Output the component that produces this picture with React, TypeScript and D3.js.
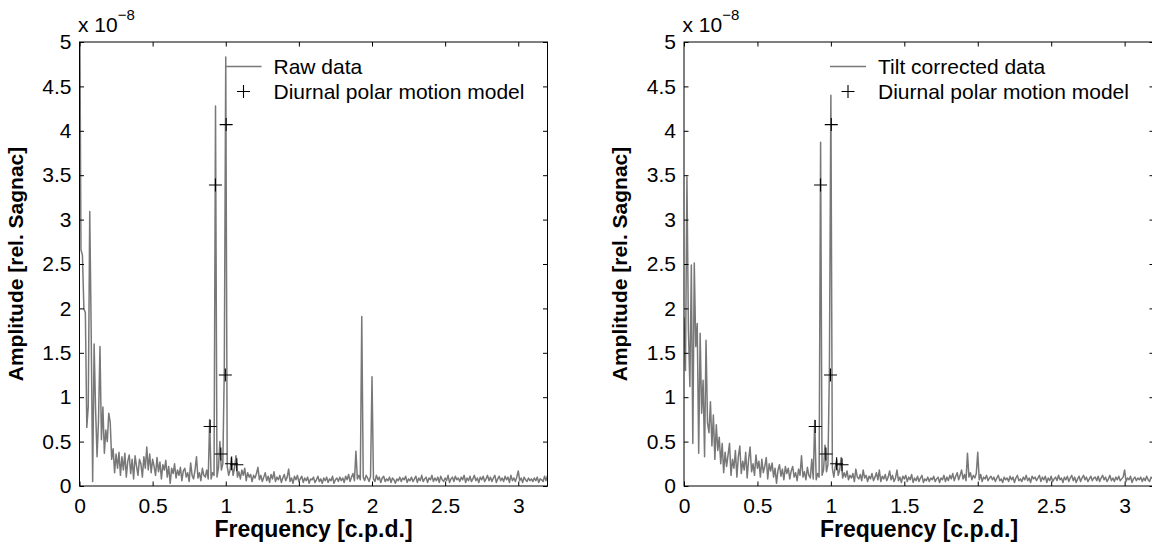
import React, { useEffect, useRef } from "react";
import * as d3 from "d3";

// spectrum bins are spaced 0.01 c.p.d. apart, starting at 0
const FREQ_STEP = 0.01;

// raw Sagnac amplitude spectrum, units of 1e-8, one row per 0.1 c.p.d.
const rawAmp = [
  6.0, 2.66, 2.6, 2.0, 1.95, 0.66, 0.9, 3.09, 1.72, 0.05,
  1.6, 0.86, 0.33, 0.74, 1.57, 0.52, 0.89, 0.37, 0.63, 0.5,
  0.82, 0.72, 0.3, 0.42, 0.15, 0.36, 0.2, 0.38, 0.12, 0.33,
  0.18, 0.37, 0.1, 0.28, 0.35, 0.14, 0.3, 0.08, 0.34, 0.22,
  0.12, 0.3, 0.25, 0.1, 0.33, 0.2, 0.44, 0.18, 0.36, 0.15,
  0.3, 0.22, 0.12, 0.32, 0.16, 0.27, 0.08, 0.24, 0.18, 0.29,
  0.1, 0.22, 0.03, 0.2, 0.14, 0.25, 0.09, 0.18, 0.12, 0.21,
  0.06, 0.17, 0.2, 0.1, 0.15, 0.05, 0.26, 0.12, 0.08, 0.18,
  0.33, 0.09, 0.15, 0.06, 0.2, 0.12, 0.1, 0.18, 0.08, 0.75,
  0.08, 0.15, 0.12, 4.28, 0.1, 0.2, 0.5, 0.18, 0.25, 1.3,
  4.83, 0.22, 0.12, 0.18, 0.33, 0.12, 0.2, 0.34, 0.1, 0.16,
  0.08, 0.18, 0.12, 0.2, 0.06, 0.15, 0.1, 0.13, 0.05, 0.12,
  0.09, 0.14, 0.21, 0.07, 0.12, 0.05, 0.1, 0.15, 0.06, 0.11,
  0.04, 0.13, 0.08, 0.16, 0.05, 0.1, 0.07, 0.12, 0.04, 0.09,
  0.13, 0.06, 0.1, 0.19, 0.05, 0.09, 0.03, 0.11, 0.07, 0.12,
  0.05, 0.08, 0.11, 0.04, 0.09, 0.06, 0.1, 0.03, 0.08, 0.07,
  0.1, 0.04, 0.07, 0.11, 0.05, 0.08, 0.03, 0.09, 0.06, 0.1,
  0.04, 0.08, 0.06, 0.11, 0.03, 0.07, 0.09, 0.05, 0.1, 0.06,
  0.09, 0.04, 0.11, 0.07, 0.13, 0.05, 0.1, 0.14, 0.06, 0.39,
  0.08, 0.12, 0.07, 1.91, 0.1, 0.06, 0.12, 0.09, 0.05, 0.11,
  1.23, 0.08, 0.05, 0.12, 0.07, 0.1, 0.04, 0.09, 0.11, 0.05,
  0.08, 0.06, 0.1, 0.04, 0.09, 0.07, 0.03, 0.08, 0.06, 0.1,
  0.05, 0.09, 0.07, 0.11, 0.04, 0.08, 0.06, 0.1, 0.05, 0.08,
  0.11, 0.04, 0.09, 0.06, 0.12, 0.05, 0.08, 0.1, 0.04, 0.09,
  0.07, 0.12, 0.05, 0.09, 0.06, 0.1, 0.04, 0.11, 0.07, 0.05,
  0.09, 0.06, 0.12, 0.04, 0.08, 0.1, 0.05, 0.11, 0.07, 0.09,
  0.05, 0.1, 0.07, 0.12, 0.04, 0.09, 0.06, 0.11, 0.05, 0.08,
  0.12, 0.06, 0.09, 0.04, 0.1, 0.07, 0.11, 0.05, 0.08, 0.12,
  0.06, 0.1, 0.05, 0.09, 0.12, 0.04, 0.08, 0.11, 0.06, 0.09,
  0.05, 0.11, 0.07, 0.1, 0.04, 0.12, 0.06, 0.09, 0.05, 0.1,
  0.17, 0.06, 0.09, 0.04, 0.1, 0.07, 0.05, 0.09, 0.06, 0.08,
  0.05, 0.09, 0.06, 0.1, 0.04, 0.08, 0.07, 0.05, 0.11, 0.06,
  0.12,
];

// tilt corrected spectrum, same bins
const tiltAmp = [
  1.9, 1.3, 3.48, 1.76, 1.12, 2.49, 0.48, 2.51, 1.57, 1.83,
  0.37, 1.72, 0.82, 1.19, 0.33, 1.64, 0.71, 0.6, 0.95, 0.45,
  0.8, 0.3, 0.69, 0.4, 0.55, 0.25, 0.48, 0.15, 0.38, 0.22,
  0.35, 0.48, 0.12, 0.3, 0.2, 0.4, 0.1, 0.33, 0.45, 0.14,
  0.28, 0.18, 0.38, 0.09, 0.3, 0.44, 0.16, 0.25, 0.12, 0.35,
  0.2, 0.28, 0.1, 0.3, 0.15, 0.22, 0.32, 0.08, 0.25, 0.17,
  0.26, 0.1, 0.2, 0.03, 0.18, 0.24, 0.11, 0.19, 0.07, 0.22,
  0.14, 0.2, 0.08, 0.17, 0.22, 0.1, 0.15, 0.06, 0.19, 0.12,
  0.34, 0.1, 0.16, 0.07, 0.21, 0.12, 0.09, 0.3, 0.08, 0.74,
  0.07, 0.14, 0.1, 3.87, 0.12, 0.18, 0.46, 0.16, 0.24, 1.3,
  4.4, 0.2, 0.1, 0.22, 0.3, 0.12, 0.18, 0.32, 0.09, 0.15,
  0.1, 0.17, 0.07, 0.12, 0.09, 0.14, 0.05, 0.19, 0.1, 0.08,
  0.13, 0.06, 0.18, 0.09, 0.12, 0.05, 0.11, 0.08, 0.14, 0.06,
  0.1, 0.15, 0.07, 0.18, 0.05, 0.11, 0.08, 0.13, 0.06, 0.1,
  0.17, 0.07, 0.12, 0.05, 0.09, 0.18, 0.06, 0.1, 0.04, 0.11,
  0.08, 0.12, 0.05, 0.1, 0.07, 0.13, 0.04, 0.09, 0.06, 0.11,
  0.05, 0.09, 0.12, 0.04, 0.08, 0.06, 0.1, 0.05, 0.09, 0.07,
  0.11, 0.05, 0.08, 0.1, 0.04, 0.09, 0.07, 0.12, 0.05, 0.1,
  0.06, 0.12, 0.08, 0.14, 0.06, 0.11, 0.15, 0.07, 0.12, 0.18,
  0.08, 0.13, 0.06, 0.37, 0.1, 0.15, 0.07, 0.12, 0.09, 0.14,
  0.38, 0.07, 0.13, 0.05, 0.1, 0.08, 0.12, 0.06, 0.09, 0.11,
  0.07, 0.1, 0.05, 0.09, 0.12, 0.06, 0.08, 0.04, 0.1, 0.07,
  0.09, 0.05, 0.11, 0.07, 0.1, 0.04, 0.09, 0.12, 0.06, 0.08,
  0.05, 0.1, 0.07, 0.12, 0.06, 0.09, 0.04, 0.11, 0.08, 0.1,
  0.06, 0.09, 0.12, 0.05, 0.1, 0.07, 0.11, 0.04, 0.09, 0.06,
  0.11, 0.05, 0.08, 0.1, 0.06, 0.12, 0.07, 0.09, 0.04, 0.1,
  0.07, 0.11, 0.05, 0.09, 0.12, 0.06, 0.1, 0.04, 0.08, 0.11,
  0.05, 0.09, 0.12, 0.07, 0.1, 0.05, 0.08, 0.11, 0.06, 0.09,
  0.1, 0.06, 0.11, 0.05, 0.09, 0.12, 0.07, 0.1, 0.05, 0.08,
  0.12, 0.06, 0.09, 0.05, 0.1, 0.07, 0.11, 0.06, 0.08, 0.1,
  0.18, 0.05, 0.09, 0.07, 0.11, 0.04, 0.08, 0.1, 0.06, 0.09,
  0.07, 0.1, 0.05, 0.09, 0.06, 0.11, 0.07, 0.05, 0.1, 0.08,
  0.13,
];

// diurnal polar motion model (Q1, O1, M1, P1, K1, J1, OO1)
const modelFreq = [0.8932, 0.9295, 0.9664, 0.9973, 1.0027, 1.039, 1.0759];
const modelAmp = [0.67, 3.39, 0.36, 1.25, 4.07, 0.25, 0.24];

const xTicks = [0, 0.5, 1, 1.5, 2, 2.5, 3];
const yTicks = [0, 0.5, 1, 1.5, 2, 2.5, 3, 3.5, 4, 4.5, 5];
const seriesNames = ["Raw data", "Tilt corrected data"];
const modelName = "Diurnal polar motion model";

const FONT = "'Liberation Sans', Arial, Helvetica, sans-serif";
const GRAY = "#787878";

function plusPath(cx: number, cy: number, r: number) {
  return `M${cx - r},${cy}H${cx + r}M${cx},${cy - r}V${cy + r}`;
}

function drawPanel(svg: any, idx: number, left: number, right: number, amp: number[]) {
  const top = 42, bottom = 486;
  const x = d3.scaleLinear().domain([0, 3.2]).range([left, right]);
  const y = d3.scaleLinear().domain([0, 5]).range([bottom, top]);
  const g = svg.append("g");

  const clipId = "clip" + idx;
  g.append("clipPath").attr("id", clipId)
    .append("rect")
    .attr("x", left).attr("y", top)
    .attr("width", right - left).attr("height", bottom - top);

  const line = d3.line<number>()
    .x((d, i) => x(i * FREQ_STEP))
    .y(d => y(d));

  g.append("path")
    .datum(amp)
    .attr("clip-path", `url(#${clipId})`)
    .attr("d", line)
    .attr("fill", "none")
    .attr("stroke", GRAY)
    .attr("stroke-width", 1.5)
    .attr("stroke-linejoin", "round");

  // model crosses
  g.selectAll(".mk")
    .data(modelFreq)
    .enter()
    .append("path")
    .attr("d", (d: number, i: number) => plusPath(x(d), y(modelAmp[i]), 6.5))
    .attr("stroke", "#000")
    .attr("stroke-width", 1.1)
    .attr("fill", "none");

  // axes, MATLAB style: inward ticks on all four sides
  const tick = 4.5;
  const styleAxis = (a: any) => {
    a.select(".domain").remove();
    a.selectAll("line").attr("stroke", "#000");
    a.selectAll("text").attr("font-family", FONT).attr("font-size", 21).attr("fill", "#000");
  };
  g.append("g").attr("transform", `translate(0,${bottom})`)
    .call(d3.axisBottom(x).tickValues(xTicks).tickSizeInner(-tick).tickSizeOuter(0).tickPadding(12).tickFormat((d: any) => String(d)))
    .call(styleAxis);
  g.append("g").attr("transform", `translate(0,${top})`)
    .call(d3.axisTop(x).tickValues(xTicks).tickSizeInner(-tick).tickSizeOuter(0).tickFormat(() => ""))
    .call(styleAxis);
  g.append("g").attr("transform", `translate(${left},0)`)
    .call(d3.axisLeft(y).tickValues(yTicks).tickSizeInner(-tick).tickSizeOuter(0).tickPadding(8).tickFormat((d: any) => String(d)))
    .call(styleAxis);
  g.append("g").attr("transform", `translate(${right},0)`)
    .call(d3.axisRight(y).tickValues(yTicks).tickSizeInner(-tick).tickSizeOuter(0).tickFormat(() => ""))
    .call(styleAxis);

  g.append("rect")
    .attr("x", left).attr("y", top)
    .attr("width", right - left).attr("height", bottom - top)
    .attr("fill", "none").attr("stroke", "#000").attr("stroke-width", 1);

  // exponent label
  const ex = g.append("text")
    .attr("x", left - 1.5).attr("y", 32)
    .attr("font-family", FONT).attr("font-size", 21);
  ex.append("tspan").text("x 10");
  ex.append("tspan").attr("dy", -12).attr("font-size", 15).text("\u22128");

  // axis titles
  g.append("text")
    .attr("x", (left + right) / 2).attr("y", 537)
    .attr("text-anchor", "middle")
    .attr("font-family", FONT).attr("font-weight", "bold").attr("font-size", 23)
    .text("Frequency [c.p.d.]");
  g.append("text")
    .attr("transform", `translate(${left - 57},${(top + bottom) / 2}) rotate(-90)`)
    .attr("text-anchor", "middle")
    .attr("font-family", FONT).attr("font-weight", "bold").attr("font-size", 21)
    .text("Amplitude [rel. Sagnac]");

  // legend (no box, drawn straight over the plot)
  const lx = left + 146;
  const lg = g.append("g");
  lg.append("line")
    .attr("x1", lx).attr("x2", lx + 36)
    .attr("y1", 66.5).attr("y2", 66.5)
    .attr("stroke", GRAY).attr("stroke-width", 1.3);
  lg.append("text")
    .attr("x", lx + 48).attr("y", 67).attr("dy", "0.35em")
    .attr("font-family", FONT).attr("font-size", 21)
    .text(seriesNames[idx]);
  lg.append("path")
    .attr("d", plusPath(lx + 18, 91.5, 6.5))
    .attr("stroke", "#000").attr("stroke-width", 1.1);
  lg.append("text")
    .attr("x", lx + 48).attr("y", 91.5).attr("dy", "0.35em")
    .attr("font-family", FONT).attr("font-size", 21)
    .text(modelName);
}

export default function App() {
  const ref = useRef<SVGSVGElement>(null);

  useEffect(() => {
    const svg = d3.select(ref.current);
    svg.selectAll("*").remove();
    drawPanel(svg, 0, 79.5, 547.5, rawAmp);
    drawPanel(svg, 1, 684, 1154, tiltAmp);
  }, []);

  return (
    <div style={{ position: "absolute", left: 0, top: 0 }}>
      <svg ref={ref} width={1152} height={544} style={{ display: "block", background: "#fff" }} />
    </div>
  );
}
